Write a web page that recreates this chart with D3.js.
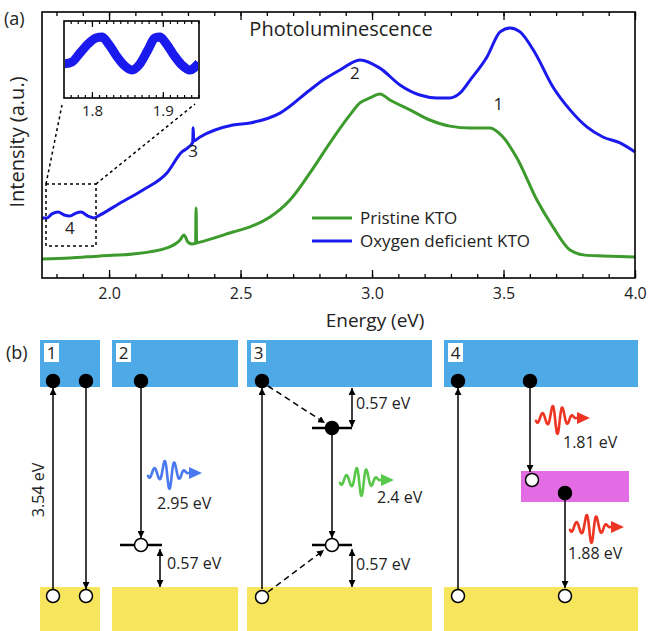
<!DOCTYPE html>
<html>
<head>
<meta charset="utf-8">
<script src="https://cdn.jsdelivr.net/npm/d3@7"></script>
<style>
  body { margin: 0; background: #fff; }
  text { font-family: "Open Sans", sans-serif; fill: #222; }
</style>
</head>
<body>
<svg id="fig" width="658" height="631"></svg>
<script>
// ---------- data ----------
var blueEnergy = [1.745,1.764,1.783,1.806,1.829,1.851,1.874,1.893,1.920,1.943,1.966,2.042,2.129,2.220,2.277,2.300,2.318,2.320,2.322,2.346,2.471,2.536,2.650,2.764,2.814,2.878,2.954,3.030,3.106,3.182,3.247,3.296,3.334,3.373,3.437,3.487,3.525,3.563,3.620,3.688,3.753,3.817,3.878,3.943,4.0]
var blueIntensity = [0.226,0.226,0.241,0.248,0.237,0.233,0.244,0.248,0.233,0.226,0.237,0.282,0.331,0.395,0.474,0.490,0.510,0.565,0.515,0.530,0.575,0.583,0.620,0.707,0.744,0.782,0.820,0.789,0.726,0.688,0.677,0.677,0.695,0.744,0.831,0.925,0.940,0.925,0.846,0.718,0.632,0.568,0.530,0.508,0.474]

var greenEnergy = [1.745,1.851,1.966,2.091,2.220,2.270,2.285,2.300,2.315,2.329,2.331,2.333,2.346,2.471,2.536,2.612,2.688,2.764,2.840,2.916,2.954,2.992,3.030,3.068,3.144,3.220,3.296,3.373,3.448,3.498,3.551,3.627,3.688,3.753,3.810,3.878,4.0]
var greenIntensity = [0.071,0.075,0.083,0.090,0.113,0.143,0.162,0.135,0.128,0.130,0.263,0.132,0.135,0.173,0.192,0.229,0.293,0.395,0.508,0.613,0.658,0.677,0.692,0.669,0.632,0.594,0.571,0.564,0.564,0.530,0.451,0.293,0.192,0.105,0.086,0.083,0.079]

// zoomed inset (1.76 - 1.95 eV)
var insetEnergy = [1.7606,1.7718,1.7831,1.7944,1.8056,1.8141,1.8225,1.8338,1.8450,1.8563,1.8676,1.8789,1.8887,1.8958,1.9042,1.9155,1.9268,1.9380,1.9507]
var insetIntensity = [0.442,0.468,0.584,0.701,0.779,0.792,0.714,0.558,0.429,0.364,0.442,0.623,0.779,0.792,0.714,0.558,0.429,0.364,0.455]

var majorTicks = [2.0, 2.5, 3.0, 3.5, 4.0]
var minorTicks = d3.range(18, 41).map(function(d){ return d / 10 })
var insetMajor = [1.8, 1.9]
var insetMinor = d3.range(177, 196).map(function(d){ return d / 100 })

var seriesNames = ["Pristine KTO", "Oxygen deficient KTO"]
var peakLabels = ["1", "2", "3", "4"]
var photonEnergies = ["2.95 eV", "2.4 eV", "1.81 eV", "1.88 eV"]

var blue = "#1a1aee", green = "#3d9a2c"
var cbColor = "#4eaae6", vbColor = "#f8e55e", midColor = "#e36be3"

var svg = d3.select("#fig")

//##########  (a) PHOTOLUMINESCENCE  ##########
var x = d3.scaleLinear().domain([1.745, 4.0]).range([42, 635])
var y = d3.scaleLinear().domain([0, 1]).range([278, 12])

var line = d3.line()
  .x(function(d){ return x(d[0]) })
  .y(function(d){ return y(d[1]) })
  .curve(d3.curveMonotoneX)

svg.append("path").attr("d", line(d3.zip(greenEnergy, greenIntensity)))
  .attr("fill", "none").attr("stroke", green).attr("stroke-width", 3)
svg.append("path").attr("d", line(d3.zip(blueEnergy, blueIntensity)))
  .attr("fill", "none").attr("stroke", blue).attr("stroke-width", 3)

// axes (ticks inward)
function tickAxis(axis, ty, vals, size, fmt, pad) {
  var g = svg.append("g").attr("transform", "translate(0," + ty + ")")
    .call(axis(x).tickValues(vals).tickSize(size).tickPadding(pad || 3).tickFormat(fmt || ""))
  g.select(".domain").remove()
  g.selectAll("line").attr("stroke", "#000").attr("stroke-width", 1.3)
  return g
}
tickAxis(d3.axisBottom, 278, minorTicks, -4)
var xb = tickAxis(d3.axisBottom, 278, majorTicks, -8, d3.format(".1f"), 10)
xb.selectAll("text").style("font-size", "16px").attr("fill", "#222")
  .style("font-family", "'Open Sans', sans-serif")
tickAxis(d3.axisTop, 12, minorTicks, -4)
tickAxis(d3.axisTop, 12, majorTicks, -8)

svg.append("rect").attr("x", 42).attr("y", 12).attr("width", 593).attr("height", 266)
  .attr("fill", "none").attr("stroke", "#000").attr("stroke-width", 1.6)

svg.append("text").attr("x", 375).attr("y", 327).attr("text-anchor", "middle")
  .style("font-size", "19px").text("Energy (eV)")
svg.append("text").attr("transform", "translate(24,142) rotate(-90)")
  .attr("text-anchor", "middle").style("font-size", "20px").text("Intensity (a.u.)")
svg.append("text").attr("x", 4).attr("y", 25).style("font-size", "18px").text("(a)")
svg.append("text").attr("x", 341).attr("y", 36).attr("text-anchor", "middle")
  .style("font-size", "20px").text("Photoluminescence")

// peak numbers
var peakPos = [[3.48, 0.63], [2.935, 0.748], [2.32, 0.455], [1.851, 0.165]]
svg.selectAll(".peak").data(peakLabels).enter().append("text")
  .attr("class", "peak")
  .attr("x", function(d, i){ return x(peakPos[i][0]) })
  .attr("y", function(d, i){ return y(peakPos[i][1]) })
  .attr("text-anchor", "middle").style("font-size", "17px")
  .text(function(d){ return d })

// legend
var legY = [218, 241]
var legCol = [green, blue]
seriesNames.forEach(function(name, i) {
  svg.append("line").attr("x1", 312).attr("x2", 352).attr("y1", legY[i]).attr("y2", legY[i])
    .attr("stroke", legCol[i]).attr("stroke-width", 3)
  svg.append("text").attr("x", 360).attr("y", legY[i] + 6).style("font-size", "17px").text(name)
})

// dashed zoom box + connectors
var dash = "3,3"
svg.append("rect").attr("x", 46).attr("y", 184).attr("width", 50).attr("height", 62)
  .attr("fill", "none").attr("stroke", "#000").attr("stroke-width", 1.5).attr("stroke-dasharray", dash)
svg.append("line").attr("x1", 46).attr("y1", 184).attr("x2", 62).attr("y2", 105)
  .attr("stroke", "#000").attr("stroke-width", 1.5).attr("stroke-dasharray", dash)
svg.append("line").attr("x1", 96).attr("y1", 184).attr("x2", 195).attr("y2", 104)
  .attr("stroke", "#000").attr("stroke-width", 1.5).attr("stroke-dasharray", dash)

// inset
var xi = d3.scaleLinear().domain([1.7606, 1.951]).range([64, 199])
var yi = d3.scaleLinear().domain([0, 1]).range([98, 21])
svg.append("rect").attr("x", 64).attr("y", 21).attr("width", 135).attr("height", 77).attr("fill", "#fff")
svg.append("clipPath").attr("id", "insetClip").append("rect")
  .attr("x", 65).attr("y", 22).attr("width", 133).attr("height", 75)
var lineI = d3.line().x(function(d){ return xi(d[0]) }).y(function(d){ return yi(d[1]) })
  .curve(d3.curveMonotoneX)
svg.append("path").attr("d", lineI(d3.zip(insetEnergy, insetIntensity)))
  .attr("clip-path", "url(#insetClip)")
  .attr("fill", "none").attr("stroke", blue).attr("stroke-width", 9)

function insetAxis(axis, ty, vals, size, fmt) {
  var g = svg.append("g").attr("transform", "translate(0," + ty + ")")
    .call(axis(xi).tickValues(vals).tickSize(size).tickPadding(7).tickFormat(fmt || ""))
  g.select(".domain").remove()
  g.selectAll("line").attr("stroke", "#000").attr("stroke-width", 1.2)
  return g
}
insetAxis(d3.axisBottom, 98, insetMinor, -3)
insetAxis(d3.axisBottom, 98, insetMajor, -6, d3.format(".1f"))
  .selectAll("text").style("font-size", "15px").attr("fill", "#222")
  .style("font-family", "'Open Sans', sans-serif")
insetAxis(d3.axisTop, 21, insetMinor, -3)
insetAxis(d3.axisTop, 21, insetMajor, -6)
svg.append("rect").attr("x", 64).attr("y", 21).attr("width", 135).attr("height", 77)
  .attr("fill", "none").attr("stroke", "#000").attr("stroke-width", 1.6)

//##########  (b) BAND DIAGRAMS  ##########
var defs = svg.append("defs")
defs.append("marker").attr("id", "head")
  .attr("viewBox", "0 0 10 10").attr("refX", 10).attr("refY", 5)
  .attr("markerWidth", 7).attr("markerHeight", 7).attr("markerUnits", "userSpaceOnUse")
  .attr("orient", "auto-start-reverse")
  .append("path").attr("d", "M0,0 L10,5 L0,10 z").attr("fill", "#000")

var b = svg.append("g")
b.append("text").attr("x", 6).attr("y", 359).style("font-size", "18px").text("(b)")

var panels = [[40, 60], [112, 126], [247, 185], [444, 194]]
panels.forEach(function(p, i) {
  b.append("rect").attr("x", p[0]).attr("y", 340).attr("width", p[1]).attr("height", 47).attr("fill", cbColor)
  b.append("rect").attr("x", p[0]).attr("y", 587).attr("width", p[1]).attr("height", 44).attr("fill", vbColor)
  b.append("rect").attr("x", p[0] + 4).attr("y", 343).attr("width", 15).attr("height", 19).attr("fill", "#fff")
  b.append("text").attr("x", p[0] + 11.5).attr("y", 359).attr("text-anchor", "middle")
    .style("font-size", "17px").text(peakLabels[i])
})
b.append("rect").attr("x", 521).attr("y", 471).attr("width", 108).attr("height", 31).attr("fill", midColor)

function arrow(x1, y1, x2, y2, opts) {
  opts = opts || {}
  var l = b.append("line").attr("x1", x1).attr("y1", y1).attr("x2", x2).attr("y2", y2)
    .attr("stroke", "#000").attr("stroke-width", 1.5).attr("marker-end", "url(#head)")
  if (opts.both) l.attr("marker-start", "url(#head)")
  if (opts.dashed) l.attr("stroke-dasharray", "6,4")
}
function level(x1, x2, yy) {
  b.append("line").attr("x1", x1).attr("x2", x2).attr("y1", yy).attr("y2", yy)
    .attr("stroke", "#000").attr("stroke-width", 2.5)
}
function dot(cx, cy, filled) {
  b.append("circle").attr("cx", cx).attr("cy", cy).attr("r", 6.5)
    .attr("fill", filled ? "#000" : "#fff").attr("stroke", "#000").attr("stroke-width", 1.5)
}
function label(tx, ty, s, rot) {
  var t = b.append("text").style("font-size", "16px").text(s)
  if (rot) t.attr("transform", "translate(" + tx + "," + ty + ") rotate(-90)").attr("text-anchor", "middle")
  else t.attr("x", tx).attr("y", ty)
}
// photon glyph: wave packet + arrow head
function photon(x0, y0, col) {
  var pts = d3.range(0, 40.5, 0.5).map(function(t) {
    var env = 0.3 + 0.7 * Math.exp(-Math.pow((t - 21) / 6.5, 2))
    if (t > 33) env *= Math.max(0, (40 - t) / 7)
    return [x0 + t, y0 - 16 * env * Math.sin((t - 4) / 10 * 2 * Math.PI)]
  })
  pts.push([x0 + 44, y0])
  b.append("path").attr("d", d3.line().curve(d3.curveCatmullRom)(pts))
    .attr("fill", "none").attr("stroke", col).attr("stroke-width", 2.6)
    .attr("stroke-linecap", "round")
  b.append("path").attr("d", "M" + (x0 + 41) + "," + (y0 - 6) + " L" + (x0 + 54) + "," + y0 + " L" + (x0 + 41) + "," + (y0 + 6) + " z")
    .attr("fill", col)
}

// panel 1
arrow(53, 589, 53, 388)
arrow(86, 388, 86, 589)
dot(53, 381, true); dot(86, 381, true)
dot(53, 596, false); dot(86, 596, false)
label(44, 490, "3.54 eV", true)

// panel 2
arrow(141, 388, 141, 538)
level(120, 162, 545)
dot(141, 381, true); dot(141, 545, false)
arrow(160, 549, 160, 587, {both: true})
label(167, 569, "0.57 eV")
photon(148, 473, "#4a78ee")
label(157, 509, photonEnergies[0])

// panel 3
arrow(262, 589, 262, 388)
arrow(268, 386, 325, 423, {dashed: true})
arrow(268, 592, 324, 550, {dashed: true})
level(312, 352, 428); level(312, 352, 545)
arrow(332, 435, 332, 538)
dot(262, 381, true); dot(262, 597, false)
dot(332, 428, true); dot(332, 545, false)
arrow(352, 388, 352, 427, {both: true})
arrow(352, 549, 352, 587, {both: true})
label(356, 409, "0.57 eV")
label(356, 570, "0.57 eV")
photon(340, 480, "#58c84a")
label(377, 503, photonEnergies[1])

// panel 4
arrow(458, 589, 458, 388)
arrow(530, 388, 530, 472)
arrow(565, 500, 565, 588)
dot(458, 381, true); dot(530, 381, true)
dot(458, 596, false); dot(565, 596, false)
dot(532, 480, false); dot(565, 493, true)
photon(536, 418, "#ee3524")
label(563, 448, photonEnergies[2])
photon(570, 527, "#ee3524")
label(568, 559, photonEnergies[3])
</script>
</body>
</html>
